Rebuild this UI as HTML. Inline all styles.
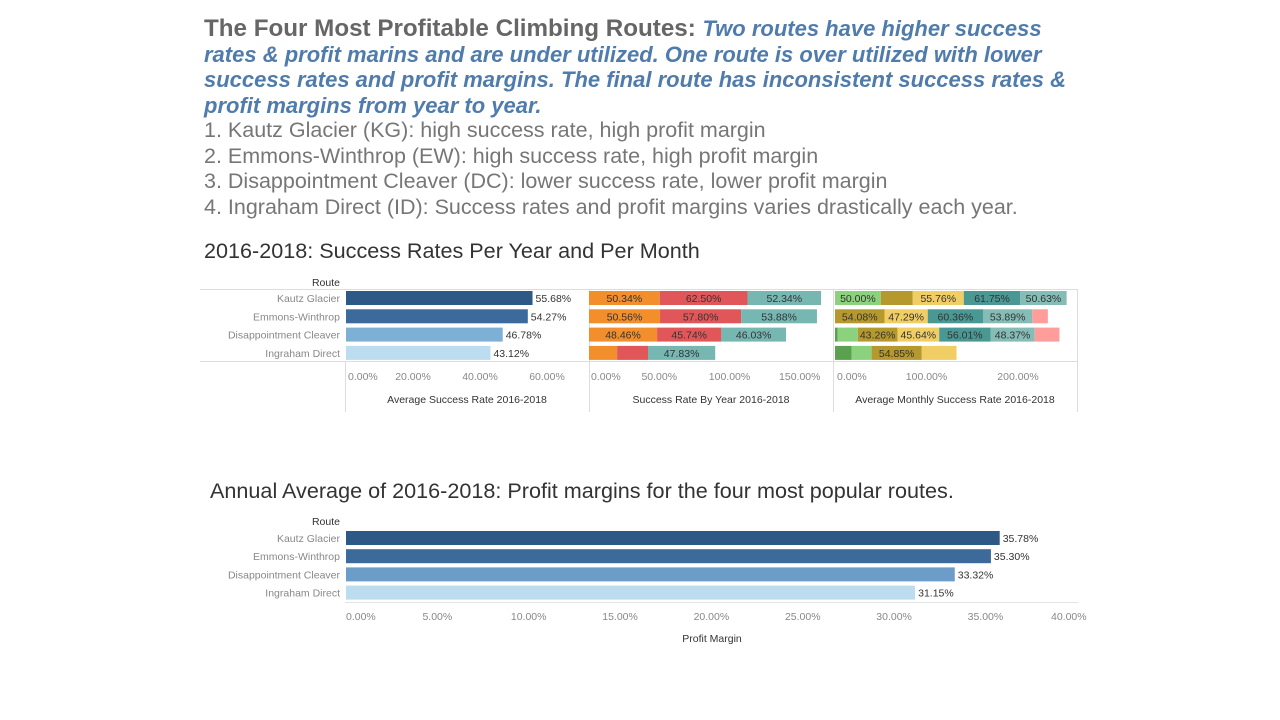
<!DOCTYPE html>
<html><head><meta charset="utf-8"><style>
body{margin:0;width:1280px;height:720px;background:#fff;overflow:hidden;font-family:"Liberation Sans",sans-serif}
#hdr{position:absolute;left:204px;top:16px;width:862px;font-size:21.5px;line-height:25.5px;color:#6d6d6d}
#hdr .ttl{font-size:0;line-height:25.5px}
#hdr .t{font-weight:bold;color:#666;font-size:24.2px;line-height:25.5px;vertical-align:top}
#hdr .s{font-weight:bold;font-style:italic;color:#4f7cac;font-size:22px;line-height:25.5px;vertical-align:top}
#hdr .l{color:#767676;white-space:nowrap}
.h2{position:absolute;font-size:21.6px;color:#333;white-space:nowrap}
svg{position:absolute;left:0;top:0}
</style></head><body>
<div id="hdr">
<div class="ttl"><span class="t">The Four Most Profitable Climbing Routes: </span><span class="s">Two routes have higher success rates &amp; profit marins and are under utilized. One route is over utilized with lower success rates and profit margins. The final route has inconsistent success rates &amp; profit margins from year to year.</span></div>
<div class="l">1. Kautz Glacier (KG): high success rate, high profit margin</div>
<div class="l">2. Emmons-Winthrop (EW): high success rate, high profit margin</div>
<div class="l">3. Disappointment Cleaver (DC): lower success rate, lower profit margin</div>
<div class="l">4. Ingraham Direct (ID): Success rates and profit margins varies drastically each year.</div>
</div>
<div class="h2" style="left:204px;top:238px">2016-2018: Success Rates Per Year and Per Month</div>
<div class="h2" style="left:210px;top:478px">Annual Average of 2016-2018: Profit margins for the four most popular routes.</div>
<svg id="c" width="1280" height="720"></svg>
<script>
const routes=["Kautz Glacier","Emmons-Winthrop","Disappointment Cleaver","Ingraham Direct"];
const avgSuccess=[55.68,54.27,46.78,43.12];
const years=["2016","2017","2018"];
const yearSuccess=[[50.34,62.50,52.34],[50.56,57.80,53.88],[48.46,45.74,46.03],[20,22,47.83]];
const yearLabelShown=[[1,1,1],[1,1,1],[1,1,1],[0,0,1]];
const months=["May","Jun","Jul","Aug","Sep","Oct","Nov"];
const monthSuccess=[[0,50.00,35,55.76,61.75,50.63,0],[0,0,54.08,47.29,60.36,53.89,17],[3,22,43.26,45.64,56.01,48.37,27],[18,22,54.85,38,0,0,0]];
const monthLabelShown=[[0,1,0,1,1,1,0],[0,0,1,1,1,1,0],[0,0,1,1,1,1,0],[0,0,1,0,0,0,0]];
const profit=[35.78,35.30,33.32,31.15];
const avgTicks=[0,20,40,60];
const yearTicks=[0,50,100,150];
const monthTicks=[0,100,200];
const profitTicks=[0,5,10,15,20,25,30,35,40];
const routeColors=["#2c5985","#3b6a9b","#7eb0d5","#bcdcf0"];
const profitColors=["#2c5985","#3b6a9b","#6b9dc8","#bcdcf0"];
const yearColors=["#f28e2b","#e15759","#76b7b2"];
const monthColors=["#59a14f","#8cd17d","#b6992d","#f1ce63","#499894","#86bcb6","#ff9d9a"];
const svg=document.getElementById('c');const NS="http://www.w3.org/2000/svg";
function mk(t,a,txt){const e=document.createElementNS(NS,t);for(const k in a)e.setAttribute(k,a[k]);if(txt!=null)e.textContent=txt;svg.appendChild(e);return e;}
const xAvg=v=>346+v*3.35, xYear=v=>589+v*1.405, xMonth=v=>835+v*0.915, xProf=v=>346+v*18.27;
const rowY=i=>298+i*18.3, prowY=i=>538+i*18.2;
const F='"Liberation Sans",sans-serif';
function txt(x,y,s,o){return mk('text',Object.assign({x:x,y:y,'font-family':F,'font-size':10.5,fill:'#888'},o||{}),s);}
[[200,289.5,1077,289.5],[200,361.5,1077,361.5],[589.5,289,589.5,412],[833.5,289,833.5,412],[345.5,361,345.5,412],[1077.5,289,1077.5,412]].forEach(l=>{const e=mk('line',{x1:l[0],y1:l[1],x2:l[2],y2:l[3],stroke:'#ddd'});});
let e=txt(340,286,"Route",{'text-anchor':'end',fill:'#333'});
routes.forEach((r,i)=>{const y=rowY(i);
 e=txt(340,y+4,r,{'text-anchor':'end'});
 e=mk('rect',{x:xAvg(0),y:y-7,width:xAvg(avgSuccess[i])-xAvg(0),height:14,fill:routeColors[i]});
 e=txt(xAvg(avgSuccess[i])+3,y+4,avgSuccess[i].toFixed(2)+"%",{fill:'#333'});
 let c=0;yearSuccess[i].forEach((v,j)=>{const x0=xYear(c),x1=xYear(c+v);
  e=mk('rect',{x:x0,y:y-7,width:x1-x0,height:14,fill:yearColors[j]});
  if(yearLabelShown[i][j]){e=txt((x0+x1)/2,y+4,v.toFixed(2)+"%",{'text-anchor':'middle',fill:'#333'});}
  c+=v;});
 c=0;monthSuccess[i].forEach((v,j)=>{if(!v)return;const x0=xMonth(c),x1=xMonth(c+v);
  e=mk('rect',{x:x0,y:y-7,width:x1-x0,height:14,fill:monthColors[j]});
  if(monthLabelShown[i][j]){e=txt((x0+x1)/2,y+4,v.toFixed(2)+"%",{'text-anchor':'middle',fill:'#333'});}
  c+=v;});
});
function ticks(arr,fx,y,name){arr.forEach((t,k)=>{e=txt(fx(t)+(k==0?2:0),y,t.toFixed(2)+"%",{'text-anchor':k==0?'start':'middle'});});}
ticks(avgTicks,xAvg,380,'avg-tick');ticks(yearTicks,xYear,380,'year-tick');ticks(monthTicks,xMonth,380,'month-tick');
e=txt(467,403,"Average Success Rate 2016-2018",{'text-anchor':'middle',fill:'#333'});
e=txt(711,403,"Success Rate By Year 2016-2018",{'text-anchor':'middle',fill:'#333'});
e=txt(955,403,"Average Monthly Success Rate 2016-2018",{'text-anchor':'middle',fill:'#333'});
e=txt(340,525,"Route",{'text-anchor':'end',fill:'#333'});
e=mk('line',{x1:345,y1:602.5,x2:1078,y2:602.5,stroke:'#e4e4e4'});
routes.forEach((r,i)=>{const y=prowY(i);
 e=txt(340,y+4,r,{'text-anchor':'end'});
 e=mk('rect',{x:xProf(0),y:y-7,width:xProf(profit[i])-xProf(0),height:14,fill:profitColors[i]});
 e=txt(xProf(profit[i])+3,y+4,profit[i].toFixed(2)+"%",{fill:'#333'});
});
profitTicks.forEach((t,k)=>{e=txt(k==0?xProf(t):xProf(t)+(k==profitTicks.length-1?-8:0),620,t.toFixed(2)+"%",{'text-anchor':k==0?'start':'middle'});});
e=txt(712,642,"Profit Margin",{'text-anchor':'middle',fill:'#333'});
</script>
</body></html>
